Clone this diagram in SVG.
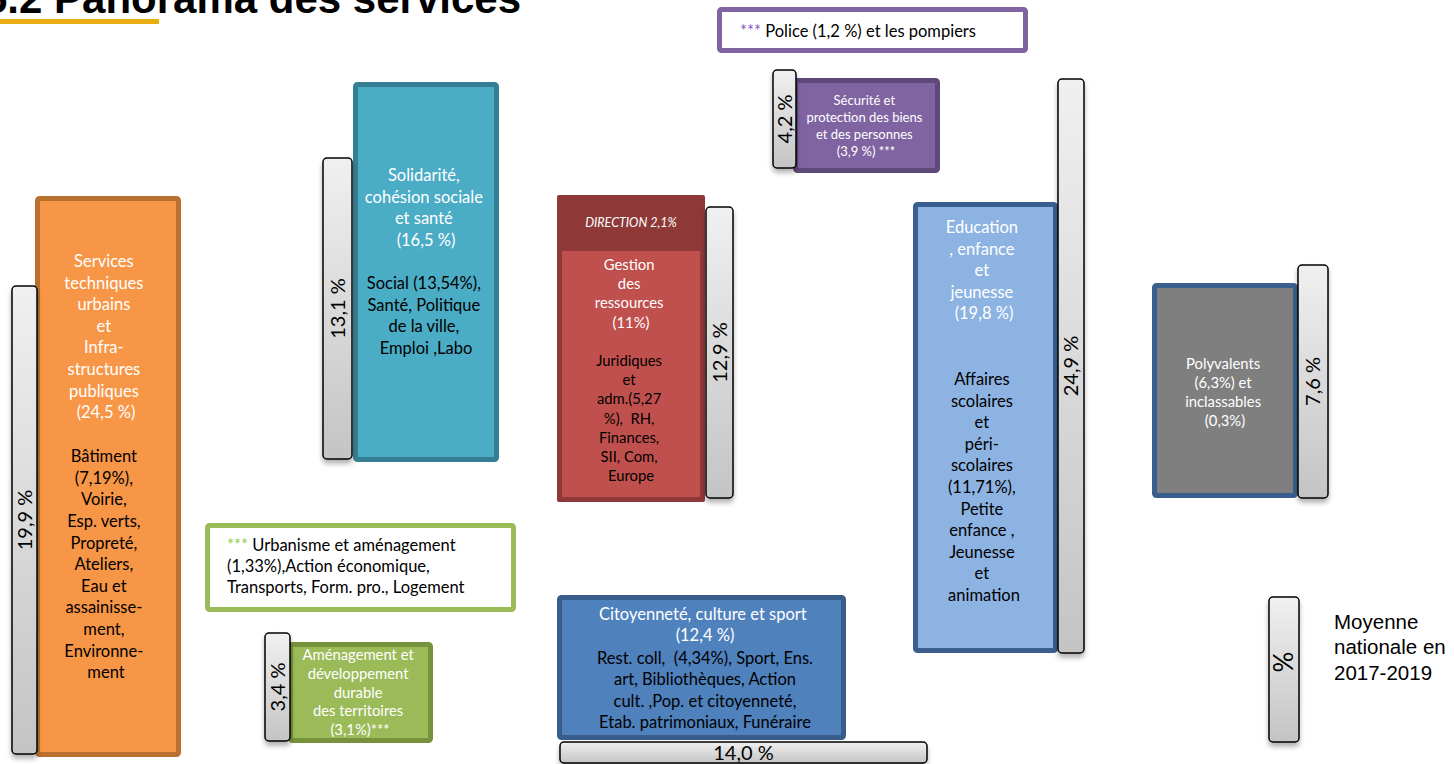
<svg xmlns="http://www.w3.org/2000/svg" width="1454" height="764" viewBox="0 0 1454 764">
<defs>
<linearGradient id="gbar" x1="0" y1="0" x2="0" y2="1">
<stop offset="0" stop-color="#F0F0F0"/>
<stop offset="1" stop-color="#C4C4C4"/>
</linearGradient>
<filter id="sh" x="-30%" y="-10%" width="160%" height="130%">
<feDropShadow dx="0" dy="4" stdDeviation="2.5" flood-color="#000" flood-opacity="0.3"/>
</filter>
</defs>
<style>
.t{font-family:Lato,"Liberation Sans",sans-serif;text-anchor:middle}
.w{fill:#FFFFFF}
.k{fill:#000000}
.f18{font-size:16.5px}
.f16{font-size:14.8px}
.f14{font-size:13px}
.bar{fill:url(#gbar);stroke:#000;stroke-width:1.5;filter:url(#sh)}
.pct{font-family:Lato,"Liberation Sans",sans-serif;font-size:20px;fill:#000;text-anchor:middle}
.box{stroke-width:5}
</style>
<rect width="1454" height="764" fill="#FFFFFF"/>

<g id="title">
<text x="-16" y="13" font-family="'Liberation Sans',Arial,sans-serif" font-weight="bold" font-size="42" fill="#000">5.2 Panorama des services</text>
<rect x="0" y="19" width="159" height="5" fill="#E8AE12"/>
</g>

<g id="connectors"/>

<g id="node-techniques">
<rect class="box" x="37.5" y="198.5" width="141" height="556" rx="2" fill="#F79646" stroke="#B8702E"/>
<text class="t f18 w" y="267">
<tspan x="106">Services</tspan>
<tspan x="106" dy="21.6">techniques</tspan>
<tspan x="106" dy="21.6">urbains</tspan>
<tspan x="106" dy="21.6">et</tspan>
<tspan x="106" dy="21.6">Infra-</tspan>
<tspan x="106" dy="21.6">structures</tspan>
<tspan x="106" dy="21.6">publiques</tspan>
<tspan x="106" dy="21.6">(24,5 %)</tspan>
</text>
<text class="t f18 k" y="462.2">
<tspan x="106">Bâtiment</tspan>
<tspan x="106" dy="21.6">(7,19%),</tspan>
<tspan x="106" dy="21.6">Voirie,</tspan>
<tspan x="106" dy="21.6">Esp. verts,</tspan>
<tspan x="106" dy="21.6">Propreté,</tspan>
<tspan x="106" dy="21.6">Ateliers,</tspan>
<tspan x="106" dy="21.6">Eau et</tspan>
<tspan x="106" dy="21.6">assainisse-</tspan>
<tspan x="106" dy="21.6">ment,</tspan>
<tspan x="106" dy="21.6">Environne-</tspan>
<tspan x="106" dy="21.6">ment</tspan>
</text>
<rect class="bar" x="12" y="286" width="25" height="468" rx="4"/>
<text class="pct" transform="translate(25,520) rotate(-90)" dy="0.35em">19,9 %</text>
</g>

<g id="node-solidarite">
<rect class="box" x="355.5" y="84.5" width="141" height="375" rx="2" fill="#4BACC6" stroke="#357F94"/>
<text class="t f18 w" y="181">
<tspan x="426">Solidarité,</tspan>
<tspan x="426" dy="21.6">cohésion sociale</tspan>
<tspan x="426" dy="21.6">et santé</tspan>
<tspan x="426" dy="21.6">(16,5 %)</tspan>
</text>
<text class="t f18 k" y="289">
<tspan x="426">Social (13,54%),</tspan>
<tspan x="426" dy="21.6">Santé, Politique</tspan>
<tspan x="426" dy="21.6">de la ville,</tspan>
<tspan x="426" dy="21.6">Emploi ,Labo</tspan>
</text>
<rect class="bar" x="323" y="158" width="29" height="301" rx="4"/>
<text class="pct" transform="translate(337.5,308.5) rotate(-90)" dy="0.35em">13,1 %</text>
</g>

<g id="node-gestion">
<rect x="557" y="195" width="148" height="307" rx="2" fill="#8E3937"/>
<rect x="562" y="251" width="138" height="246" fill="#C0504D"/>
<text class="t w" x="631" y="227" font-size="12.5" font-style="italic">DIRECTION 2,1%</text>
<text class="t f16 w" y="270">
<tspan x="631">Gestion</tspan>
<tspan x="631" dy="19.2">des</tspan>
<tspan x="631" dy="19.2">ressources</tspan>
<tspan x="631" dy="19.2">(11%)</tspan>
</text>
<text class="t f16 k" y="366">
<tspan x="631">Juridiques</tspan>
<tspan x="631" dy="19.2">et</tspan>
<tspan x="631" dy="19.2">adm.(5,27</tspan>
<tspan x="631" dy="19.2" xml:space="preserve">%),  RH,</tspan>
<tspan x="631" dy="19.2">Finances,</tspan>
<tspan x="631" dy="19.2">SII, Com,</tspan>
<tspan x="631" dy="19.2">Europe</tspan>
</text>
<rect class="bar" x="706" y="207" width="27" height="291" rx="4"/>
<text class="pct" transform="translate(719.5,352.5) rotate(-90)" dy="0.35em">12,9 %</text>
</g>

<g id="note-police">
<rect x="719.5" y="9.5" width="306" height="41" rx="2" fill="#FFFFFF" stroke="#8064A2" stroke-width="5"/>
<text x="740" y="37" font-family="Lato,'Liberation Sans',sans-serif" font-size="16.5" fill="#000"><tspan fill="#8A5CC8">***</tspan> Police (1,2 %) et les pompiers</text>
</g>

<g id="node-securite">
<rect class="box" x="795.5" y="80.5" width="142" height="90" rx="2" fill="#8064A2" stroke="#5F497A"/>
<text class="t f14 w" y="105">
<tspan x="866">Sécurité et</tspan>
<tspan x="866" dy="17">protection des biens</tspan>
<tspan x="866" dy="17">et des personnes</tspan>
<tspan x="866" dy="17">(3,9 %) ***</tspan>
</text>
<rect class="bar" x="773" y="70" width="23" height="98" rx="4"/>
<text class="pct" transform="translate(784.5,119) rotate(-90)" dy="0.35em">4,2 %</text>
</g>

<g id="node-education">
<rect class="box" x="915.5" y="204.5" width="140" height="446" rx="2" fill="#8DB3E2" stroke="#3A5F8E"/>
<text class="t f18 w" y="233">
<tspan x="984">Education</tspan>
<tspan x="984" dy="21.6">, enfance</tspan>
<tspan x="984" dy="21.6">et</tspan>
<tspan x="984" dy="21.6">jeunesse</tspan>
<tspan x="984" dy="21.6">(19,8 %)</tspan>
</text>
<text class="t f18 k" y="385">
<tspan x="984">Affaires</tspan>
<tspan x="984" dy="21.6">scolaires</tspan>
<tspan x="984" dy="21.6">et</tspan>
<tspan x="984" dy="21.6">péri-</tspan>
<tspan x="984" dy="21.6">scolaires</tspan>
<tspan x="984" dy="21.6">(11,71%),</tspan>
<tspan x="984" dy="21.6">Petite</tspan>
<tspan x="984" dy="21.6">enfance ,</tspan>
<tspan x="984" dy="21.6">Jeunesse</tspan>
<tspan x="984" dy="21.6">et</tspan>
<tspan x="984" dy="21.6">animation</tspan>
</text>
<rect class="bar" x="1058" y="79" width="26" height="574" rx="4"/>
<text class="pct" transform="translate(1071,366) rotate(-90)" dy="0.35em">24,9 %</text>
</g>

<g id="node-polyvalents">
<rect class="box" x="1154.5" y="285.5" width="141" height="210" rx="2" fill="#7F7F7F" stroke="#3A5F8E"/>
<text class="t f16 w" y="369">
<tspan x="1225">Polyvalents</tspan>
<tspan x="1225" dy="19">(6,3%) et</tspan>
<tspan x="1225" dy="19">inclassables</tspan>
<tspan x="1225" dy="19">(0,3%)</tspan>
</text>
<rect class="bar" x="1298" y="265" width="30" height="233" rx="4"/>
<text class="pct" transform="translate(1313,381.5) rotate(-90)" dy="0.35em">7,6 %</text>
</g>

<g id="note-urbanisme">
<rect x="207.5" y="525.5" width="306" height="84" rx="2" fill="#FFFFFF" stroke="#9BBB59" stroke-width="5"/>
<text font-family="Lato,'Liberation Sans',sans-serif" font-size="16.5" fill="#000" y="551">
<tspan x="227"><tspan fill="#92D050">***</tspan> Urbanisme et aménagement</tspan>
<tspan x="227" dy="21">(1,33%),Action économique,</tspan>
<tspan x="227" dy="21">Transports, Form. pro., Logement</tspan>
</text>
</g>

<g id="node-amenagement">
<rect class="box" x="290.5" y="644.5" width="140" height="96" rx="2" fill="#9BBB59" stroke="#76923C"/>
<text class="t f16 w" y="660">
<tspan x="360">Aménagement et</tspan>
<tspan x="360" dy="18.8">développement</tspan>
<tspan x="360" dy="18.8">durable</tspan>
<tspan x="360" dy="18.8">des territoires</tspan>
<tspan x="360" dy="18.8">(3,1%)***</tspan>
</text>
<rect class="bar" x="265" y="633" width="25" height="108" rx="4"/>
<text class="pct" transform="translate(277.5,687) rotate(-90)" dy="0.35em">3,4 %</text>
</g>

<g id="node-citoyennete">
<rect class="box" x="559.5" y="597.5" width="284" height="140" rx="2" fill="#4F81BD" stroke="#385D8A"/>
<text class="t f18 w" y="620">
<tspan x="705">Citoyenneté, culture et sport</tspan>
<tspan x="705" dy="21.4">(12,4 %)</tspan>
</text>
<text class="t f18 k" y="664" xml:space="preserve"><tspan x="705">Rest. coll,  (4,34%), Sport, Ens.</tspan><tspan x="705" dy="21.4">art, Bibliothèques, Action</tspan><tspan x="705" dy="21.4">cult. ,Pop. et citoyenneté,</tspan><tspan x="705" dy="21.4">Etab. patrimoniaux, Funéraire</tspan></text>
<rect class="bar" x="560" y="742" width="367" height="21" rx="4"/>
<text class="pct" x="743.5" y="752.5" dy="0.35em">14,0 %</text>
</g>

<g id="legend">
<rect class="bar" x="1269" y="597" width="30" height="145" rx="4"/>
<text class="pct" transform="translate(1284,662) rotate(-90)" dy="0.35em" style="font-size:26px">%</text>
<text font-family="'Liberation Sans',Arial,sans-serif" font-size="20.5" fill="#000">
<tspan x="1334" y="629">Moyenne</tspan>
<tspan x="1334" y="654">nationale en</tspan>
<tspan x="1334" y="680">2017-2019</tspan>
</text>
</g>
</svg>
